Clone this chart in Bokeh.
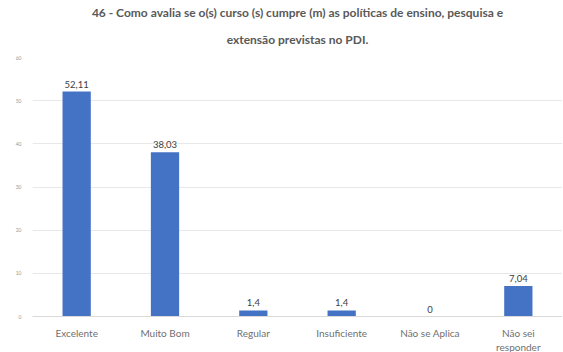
from bokeh.plotting import figure
from bokeh.models import ColumnDataSource, Title, FixedTicker, LabelSet
from bokeh.core.properties import value
from bokeh.embed import file_html
from bokeh.resources import INLINE

categories = ["Excelente", "Muito Bom", "Regular", "Insuficiente", "Não se Aplica", "Não sei\nresponder"]
values = [52.11, 38.03, 1.4, 1.4, 0, 7.04]
value_labels = ["52,11", "38,03", "1,4", "1,4", "0", "7,04"]
y_ticks = [0, 10, 20, 30, 40, 50, 60]
title_lines = ["46 - Como avalia se o(s) curso (s) cumpre (m) as políticas de ensino, pesquisa e",
               "extensão previstas no PDI."]

FONT = "Lato"

src = ColumnDataSource(dict(cat=categories, val=values, lab=value_labels))

p = figure(x_range=categories, y_range=(0, 60), frame_width=530, frame_height=259,
           output_backend="svg", toolbar_location=None,
           min_border_left=32, min_border_right=0, min_border_bottom=34, min_border_top=57)
p.title = None

for i, line in enumerate(reversed(title_lines)):
    p.add_layout(Title(text=line, align="center", text_font=FONT, text_font_size="12px",
                       text_font_style="bold", text_color="#595959", text_line_height=0.8,
                       standoff=21 if i == 0 else 0), "above")

p.vbar(x="cat", top="val", width=0.32, source=src, color="#4472C4", line_color=None)

labels = LabelSet(x="cat", y="val", text="lab", source=src, text_align="center",
                  text_baseline="bottom", y_offset=4, text_font=value(FONT),
                  text_font_size="9.5px", text_color="#404040")
p.add_layout(labels)

p.yaxis.ticker = FixedTicker(ticks=y_ticks)
p.yaxis.major_label_text_font_size = "5px"
p.yaxis.major_label_text_color = "#999999"
p.yaxis.major_label_text_font = FONT
p.yaxis.axis_line_color = None
p.yaxis.major_tick_line_color = None
p.yaxis.minor_tick_line_color = None

p.xaxis.major_label_text_font = FONT
p.xaxis.major_label_text_font_size = "10px"
p.xaxis.major_label_text_color = "#707070"
p.xaxis.axis_line_color = "#d9d9d9"
p.xaxis.major_tick_line_color = None
p.xaxis.minor_tick_line_color = None
p.xaxis.major_label_standoff = 4

p.xgrid.grid_line_color = None
p.ygrid.grid_line_color = "#e8e8e8"
p.outline_line_color = None

open("out.html", "w").write(file_html(p, INLINE))
